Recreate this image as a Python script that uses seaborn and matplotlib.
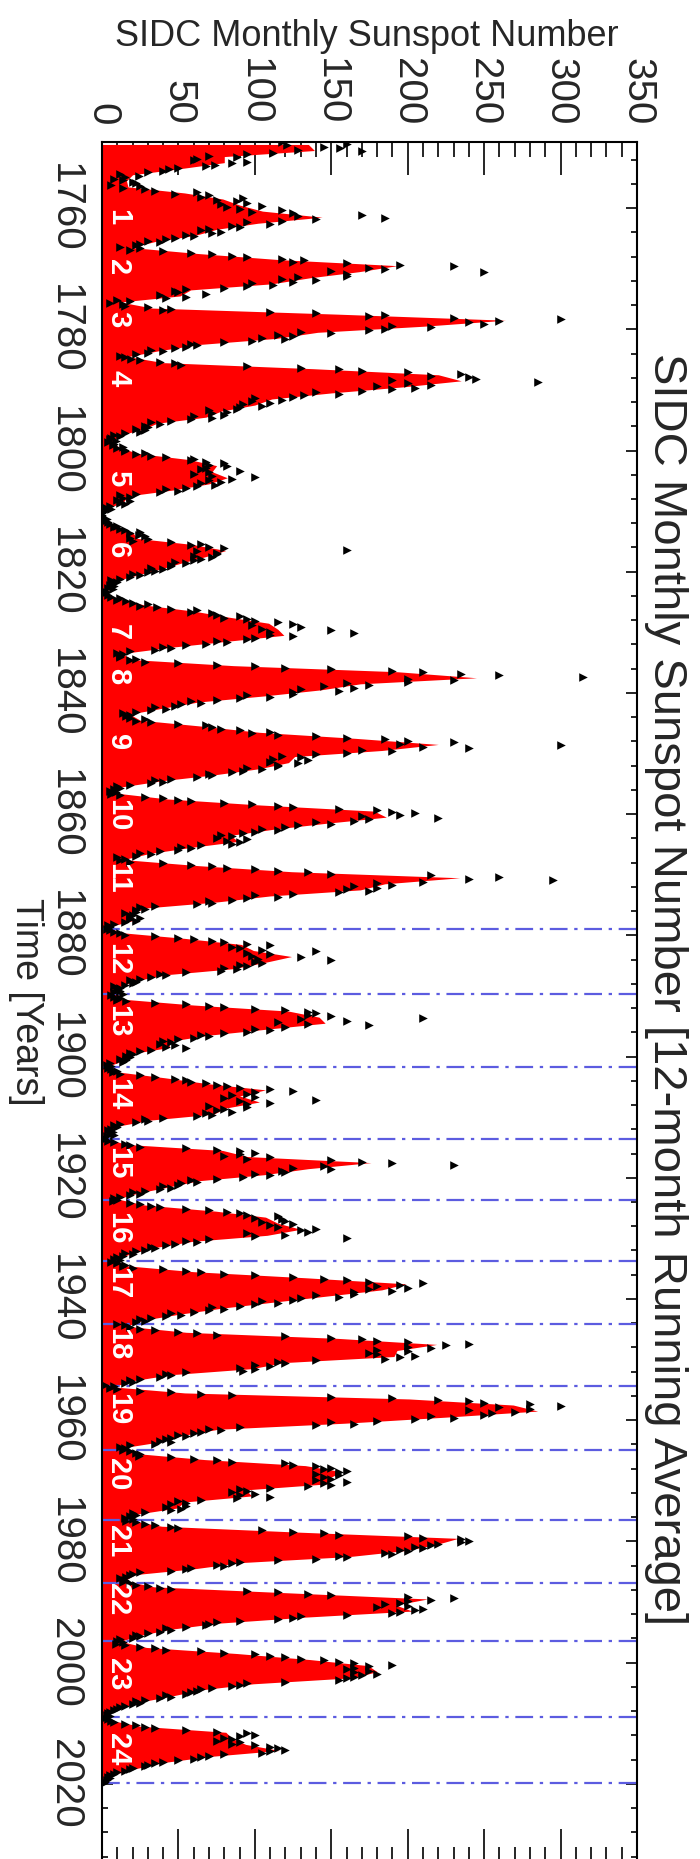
import numpy as np
import pandas as pd
import matplotlib
matplotlib.use("Agg")
import matplotlib.pyplot as plt
import matplotlib.ticker as ticker
import seaborn as sns

sns.set_theme(style="white")
plt.rcParams['font.family'] = ['Liberation Sans', 'DejaVu Sans']

# 12-month running average, one value per year from 1749
first_year = 1749
running_avg = [
    135, 139, 80, 80, 51, 20, 16, 17, 54, 79,
    90, 105, 144, 102, 75, 61, 35, 19, 63, 116,
    193, 168, 136, 111, 58, 51, 12, 33, 154, 264,
    210, 141, 114, 64, 38, 17, 40, 138, 220, 235,
    197, 150, 111, 100, 78, 68, 36, 27, 11, 7,
    11, 24, 57, 75, 72, 82, 70, 47, 17, 14,
    4, 0, 2, 8, 20, 23, 59, 81, 68, 53,
    39, 24, 9, 6, 2, 11, 28, 60, 83, 109,
    115, 119, 81, 44, 13, 20, 86, 193, 245, 169,
    143, 106, 63, 40, 18, 25, 66, 103, 166, 220,
    183, 126, 122, 103, 74, 39, 13, 8, 43, 104,
    178, 186, 147, 112, 84, 89, 58, 31, 14, 63,
    124, 234, 185, 169, 110, 75, 28, 19, 21, 6,
    10, 54, 91, 99, 124, 106, 86, 42, 22, 11,
    10, 12, 60, 122, 142, 146, 107, 69, 44, 44,
    20, 16, 5, 9, 41, 70, 107, 90, 103, 81,
    73, 31, 10, 6, 2, 16, 79, 95, 176, 135,
    106, 63, 44, 24, 10, 28, 74, 107, 115, 130,
    108, 59, 35, 19, 9, 15, 60, 133, 199, 183,
    148, 113, 79, 51, 27, 16, 55, 154, 219, 193,
    191, 119, 98, 45, 20, 7, 54, 201, 269, 285,
    225, 159, 76, 53, 40, 15, 22, 67, 133, 157,
    149, 148, 94, 98, 54, 49, 23, 18, 39, 131,
    233, 219, 199, 162, 91, 61, 21, 15, 34, 123,
    213, 192, 203, 133, 76, 45, 25, 12, 29, 88,
    136, 174, 180, 164, 99, 65, 46, 25, 13, 4,
    5, 25, 81, 85, 94, 116, 70, 40, 22, 7,
    4,
]

# monthly sunspot numbers, four samples per year from 1749
monthly = [
    118, 160, 121, 145, 156, 128, 170, 112,
    95, 70, 88, 62, 60, 95, 85, 74,
    68, 50, 44, 40, 30, 12, 24, 15,
    8, 14, 20, 22, 6, 25, 14, 28,
    35, 62, 48, 70, 65, 92, 75, 88,
    95, 78, 105, 82, 90, 118, 98, 125,
    170, 128, 185, 140, 118, 95, 110, 85,
    90, 70, 65, 78, 72, 55, 60, 48,
    42, 30, 38, 25, 22, 12, 25, 18,
    40, 58, 72, 85, 95, 118, 132, 125,
    160, 195, 230, 175, 185, 150, 250, 160,
    160, 128, 118, 140, 125, 98, 112, 95,
    80, 55, 48, 50, 68, 38, 55, 42,
    10, 18, 5, 14, 15, 30, 45, 40,
    110, 140, 185, 175, 230, 300, 260, 240,
    250, 190, 215, 185, 175, 130, 150, 115,
    125, 105, 120, 98, 80, 58, 62, 55,
    48, 32, 40, 30, 22, 12, 15, 19,
    25, 38, 48, 52, 95, 130, 155, 170,
    200, 235, 215, 240, 245, 190, 285, 200,
    215, 180, 205, 190, 170, 140, 155, 132,
    125, 100, 118, 98, 110, 92, 105, 90,
    88, 70, 82, 72, 80, 60, 72, 58,
    45, 32, 38, 28, 30, 22, 28, 25,
    15, 8, 12, 6, 5, 9, 4, 8,
    7, 14, 10, 15, 15, 28, 22, 32,
    42, 60, 58, 68, 80, 70, 82, 68,
    65, 90, 70, 60, 72, 100, 85, 70,
    78, 65, 74, 62, 55, 42, 50, 38,
    22, 12, 18, 14, 10, 18, 12, 15,
    5, 2, 6, 3, 0, 0, 0, 0,
    1, 3, 2, 4, 5, 10, 8, 12,
    15, 25, 18, 24, 28, 18, 30, 20,
    45, 65, 58, 70, 80, 160, 62, 75,
    75, 60, 72, 65, 60, 48, 55, 45,
    45, 32, 40, 35, 30, 20, 25, 18,
    12, 6, 10, 8, 5, 8, 4, 7,
    1, 3, 0, 4, 6, 12, 10, 16,
    20, 30, 25, 36, 45, 62, 58, 72,
    75, 90, 80, 95, 100, 115, 125, 98,
    130, 105, 150, 110, 165, 110, 125, 100,
    95, 75, 82, 68, 55, 40, 45, 35,
    18, 10, 14, 12, 12, 22, 18, 28,
    50, 75, 100, 120, 150, 190, 210, 235,
    260, 315, 200, 230, 200, 160, 175, 145,
    165, 130, 155, 125, 125, 95, 110, 90,
    75, 58, 65, 52, 48, 35, 42, 32,
    22, 14, 18, 16, 18, 28, 22, 32,
    50, 68, 72, 78, 90, 110, 98, 115,
    140, 160, 185, 200, 230, 195, 300, 210,
    240, 170, 190, 160, 140, 118, 130, 112,
    135, 110, 128, 115, 115, 95, 105, 92,
    85, 70, 72, 62, 45, 35, 40, 32,
    18, 10, 12, 8, 5, 9, 6, 12,
    28, 40, 50, 58, 80, 98, 115, 125,
    155, 180, 190, 205, 195, 170, 220, 175,
    165, 140, 150, 128, 120, 105, 115, 100,
    92, 78, 85, 75, 95, 82, 90, 85,
    65, 52, 58, 50, 38, 25, 32, 22,
    10, 15, 12, 18, 40, 58, 72, 82,
    100, 115, 135, 150, 215, 260, 240, 295,
    210, 180, 190, 165, 180, 160, 175, 155,
    125, 100, 115, 95, 85, 70, 72, 62,
    35, 25, 28, 22, 22, 15, 20, 18,
    25, 18, 22, 15, 8, 4, 5, 3,
    5, 8, 12, 15, 35, 50, 60, 72,
    80, 95, 110, 85, 90, 105, 140, 95,
    110, 98, 130, 102, 150, 100, 105, 90,
    95, 80, 88, 78, 55, 38, 42, 32,
    25, 18, 22, 20, 15, 8, 12, 10,
    12, 8, 14, 6, 8, 12, 10, 16,
    35, 55, 70, 80, 100, 120, 135, 140,
    135, 150, 210, 130, 160, 115, 135, 175,
    120, 100, 110, 95, 80, 65, 70, 60,
    50, 40, 45, 38, 48, 42, 55, 32,
    25, 18, 20, 16, 18, 12, 16, 14,
    5, 3, 6, 4, 6, 10, 7, 12,
    25, 35, 48, 55, 58, 68, 75, 82,
    90, 110, 125, 100, 95, 85, 100, 80,
    140, 90, 110, 95, 70, 95, 80, 75,
    85, 68, 72, 62, 40, 28, 30, 22,
    12, 8, 10, 6, 4, 7, 5, 8,
    3, 1, 2, 4, 8, 15, 18, 25,
    55, 75, 90, 100, 90, 80, 110, 95,
    150, 170, 190, 230, 145, 125, 150, 118,
    120, 100, 110, 92, 75, 58, 62, 52,
    50, 40, 45, 38, 28, 20, 25, 18,
    12, 8, 10, 7, 18, 25, 32, 38,
    55, 70, 82, 90, 95, 115, 100, 118,
    120, 105, 125, 110, 115, 140, 130, 135,
    95, 120, 100, 160, 70, 55, 62, 48,
    42, 32, 35, 28, 22, 15, 20, 14,
    10, 8, 12, 6, 10, 15, 14, 20,
    40, 55, 65, 80, 100, 125, 145, 160,
    175, 210, 195, 180, 200, 175, 190, 165,
    165, 140, 155, 130, 125, 105, 115, 100,
    90, 72, 80, 70, 60, 45, 52, 42,
    32, 25, 28, 22, 10, 15, 18, 25,
    35, 50, 62, 75, 120, 150, 170, 180,
    200, 240, 225, 200, 215, 180, 200, 175,
    180, 205, 195, 185, 140, 115, 120, 100,
    110, 90, 100, 92, 55, 42, 45, 38,
    25, 18, 20, 15, 2, 8, 5, 10,
    25, 45, 65, 85, 150, 190, 220, 240,
    250, 280, 300, 260, 280, 240, 270, 255,
    250, 215, 230, 205, 180, 150, 165, 140,
    90, 70, 78, 65, 60, 50, 55, 45,
    42, 38, 45, 35, 18, 12, 15, 14,
    18, 22, 25, 24, 45, 60, 75, 85,
    120, 125, 140, 150, 145, 160, 155, 140,
    155, 145, 150, 140, 160, 145, 150, 135,
    110, 90, 95, 85, 100, 90, 110, 88,
    65, 50, 55, 45, 55, 42, 52, 45,
    28, 20, 22, 18, 15, 20, 16, 22,
    28, 35, 45, 50, 105, 125, 145, 155,
    200, 210, 235, 240, 235, 220, 215, 205,
    210, 195, 200, 185, 190, 155, 160, 140,
    115, 90, 85, 75, 80, 58, 55, 45,
    25, 20, 18, 16, 12, 15, 14, 18,
    22, 30, 38, 45, 95, 115, 135, 150,
    200, 230, 215, 200, 195, 185, 200, 180,
    210, 205, 195, 190, 160, 130, 125, 115,
    90, 75, 70, 68, 55, 42, 45, 38,
    30, 22, 25, 20, 12, 10, 14, 9,
    15, 25, 35, 42, 65, 80, 100, 110,
    120, 130, 145, 155, 165, 190, 175, 165,
    160, 175, 165, 180, 170, 165, 160, 155,
    120, 95, 90, 85, 72, 65, 62, 58,
    55, 42, 45, 38, 28, 22, 25, 20,
    15, 12, 10, 8, 5, 4, 3, 5,
    2, 4, 6, 8, 15, 22, 28, 35,
    55, 75, 95, 100, 90, 80, 85, 75,
    90, 85, 100, 110, 115, 120, 110, 105,
    80, 70, 65, 60, 50, 40, 35, 30,
    28, 20, 18, 15, 10, 8, 5, 4,
    5, 3, 2, 1,
]

cycle_numbers = list(range(1, 25))
cycle_max_year = [1761.5, 1769.7, 1778.4, 1788.1, 1804.5, 1816.4, 1829.9, 1837.2,
                  1848.1, 1860.1, 1870.6, 1883.9, 1894.1, 1906.2, 1917.6, 1928.4,
                  1937.4, 1947.4, 1958.2, 1968.9, 1979.9, 1989.6, 2001.9, 2014.3]
cycle_min_year = [1878.9, 1889.6, 1901.7, 1913.6, 1923.6, 1933.8, 1944.2, 1954.3,
                  1964.9, 1976.5, 1986.8, 1996.4, 2008.9, 2019.9]

avg_df = pd.DataFrame({'year': first_year + 0.5 + np.arange(len(running_avg)),
                       'ssn': running_avg})
mon_df = pd.DataFrame({'year': first_year + (np.arange(len(monthly)) + 0.5) / 4,
                       'ssn': monthly})

fig = plt.figure(figsize=(7, 18.59), dpi=100)
ax = fig.add_axes([0.1457, -0.0016, 0.7643, 0.9252])

ax.fill_betweenx(avg_df['year'], 0, avg_df['ssn'], color='#ff0000', lw=0, zorder=1)
sns.scatterplot(data=mon_df, x='ssn', y='year', marker='>', color='black',
                s=38, linewidth=0, ax=ax, zorder=3)

for yr in cycle_min_year:
    ax.axhline(yr, color='#5c5ce0', lw=1.6, dashes=(8, 3, 1.5, 3), zorder=2)

for n, yr in zip(cycle_numbers, cycle_max_year):
    ax.text(10.5, yr, str(n), color='white', rotation=-90, ha='center',
            va='center', fontsize=21, fontweight='bold', zorder=4)

ax.set_xlim(0, 350)
ax.set_ylim(2032.9, 1749.1)
ax.set_xlabel('')
ax.set_ylabel('')

ax.xaxis.set_major_locator(ticker.MultipleLocator(50))
ax.xaxis.set_minor_locator(ticker.MultipleLocator(10))
ax.yaxis.set_major_locator(ticker.FixedLocator(range(1760, 2021, 20)))
ax.yaxis.set_minor_locator(ticker.FixedLocator(range(1752, 2033, 4)))

ax.tick_params(axis='x', which='both', direction='in', top=True, bottom=True,
               labeltop=True, labelbottom=False, labelrotation=-90,
               labelsize=29, pad=12, width=1.2, color='black')
ax.tick_params(axis='x', which='major', length=24)
ax.tick_params(axis='x', which='minor', length=11)
ax.tick_params(axis='y', which='both', direction='in', left=True, right=True,
               labelleft=True, labelright=False, labelrotation=-90,
               labelsize=29, pad=13, width=1.2, color='black')
ax.tick_params(axis='y', which='major', length=8)
ax.tick_params(axis='y', which='minor', length=4)
for lab in ax.get_yticklabels():
    lab.set_verticalalignment('center')

for sp in ax.spines.values():
    sp.set_color('black')
    sp.set_linewidth(1.5)
    sp.set_zorder(5)

fig.text(367 / 700, 1 - 36 / 1859, 'SIDC Monthly Sunspot Number',
         ha='center', va='center', fontsize=26)
fig.text(666 / 700, 1 - 989 / 1859,
         'SIDC Monthly Sunspot Number [12-month Running Average]',
         rotation=-90, ha='center', va='center', fontsize=34)
fig.text(26 / 700, 1 - 1002 / 1859, 'Time [Years]', rotation=-90,
         ha='center', va='center', fontsize=27)

fig.savefig('out.png', dpi=100)
